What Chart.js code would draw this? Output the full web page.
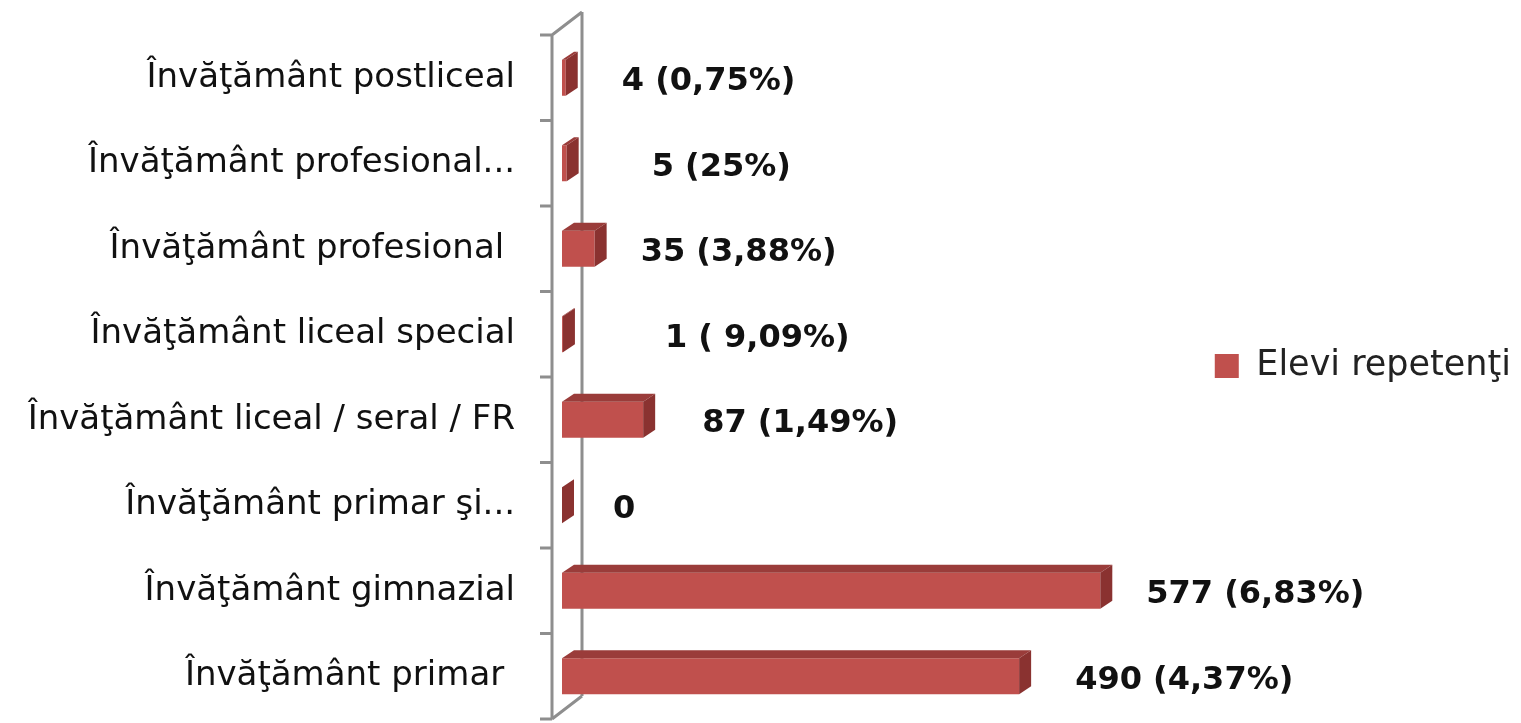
<!DOCTYPE html>
<html>
<head>
<meta charset="utf-8">
<script src="https://cdn.jsdelivr.net/npm/chart.js@4.4.1/dist/chart.umd.min.js"></script>
<style>
  html, body { margin: 0; padding: 0; background: #fff; }
  #wrap { width: 1521px; height: 723px; }
</style>
</head>
<body>
<div id="wrap"><canvas id="chart"></canvas></div>
<script>
// data
const categories = [
	'Învăţământ postliceal',
	'Învăţământ profesional...',
	'Învăţământ profesional ',
	'Învăţământ liceal special',
	'Învăţământ liceal / seral / FR',
	'Învăţământ primar şi...',
	'Învăţământ gimnazial',
	'Învăţământ primar '
];
const repetenti = [4, 5, 35, 1, 87, 0, 577, 490];
const valueLabels = [
	'4 (0,75%)',
	'5 (25%)',
	'35 (3,88%)',
	'1 ( 9,09%)',
	'87 (1,49%)',
	'0',
	'577 (6,83%)',
	'490 (4,37%)'
];
const seriesName = 'Elevi repetenţi';

// look
const BAR = '#c0504d';
const BAR_TOP = '#9a3c3a';
const BAR_SIDE = '#8a3230';
const WALL = '#8e8e8e';
const DEPTH_X = 12, DEPTH_Y = 8;
// gap between bar end and its label (labels were hand placed in the original)
const labelGap = [44, 73, 34, 90, 47, 39, 34, 44];

// back wall + front axis with ticks
const wallPlugin = {
	id: 'wall3d',
	beforeDatasetsDraw(chart) {
		const ctx = chart.ctx;
		const a = chart.chartArea;
		const front = a.left - 10, back = a.left + 20, dy = 23;
		const n = categories.length;
		ctx.save();
		ctx.strokeStyle = WALL;
		ctx.lineWidth = 3;
		ctx.beginPath();
		ctx.moveTo(front, a.top);
		ctx.lineTo(front, a.bottom);
		ctx.moveTo(back, a.top - dy);
		ctx.lineTo(back, a.bottom - dy);
		ctx.moveTo(front, a.top);
		ctx.lineTo(back, a.top - dy);
		ctx.moveTo(front, a.bottom);
		ctx.lineTo(back, a.bottom - dy);
		for (let i = 0; i <= n; i++) {
			const yy = a.top + i * (a.bottom - a.top) / n;
			ctx.moveTo(front - 12, yy);
			ctx.lineTo(front, yy);
		}
		ctx.stroke();
		ctx.restore();
	}
};

// 3d faces of the bars and the value labels
const barPlugin = {
	id: 'bar3d',
	afterDatasetsDraw(chart) {
		const ctx = chart.ctx;
		const meta = chart.getDatasetMeta(0);
		ctx.save();
		meta.data.forEach(function(bar, i) {
			const p = bar.getProps(['x', 'y', 'base', 'height'], true);
			const top = p.y - p.height / 2, bottom = p.y + p.height / 2;
			// top face
			ctx.fillStyle = BAR_TOP;
			ctx.beginPath();
			ctx.moveTo(p.base, top);
			ctx.lineTo(p.x, top);
			ctx.lineTo(p.x + DEPTH_X, top - DEPTH_Y);
			ctx.lineTo(p.base + DEPTH_X, top - DEPTH_Y);
			ctx.closePath();
			ctx.fill();
			// side face
			ctx.fillStyle = BAR_SIDE;
			ctx.beginPath();
			ctx.moveTo(p.x, top);
			ctx.lineTo(p.x + DEPTH_X, top - DEPTH_Y);
			ctx.lineTo(p.x + DEPTH_X, bottom - DEPTH_Y);
			ctx.lineTo(p.x, bottom);
			ctx.closePath();
			ctx.fill();
			// label
			ctx.fillStyle = '#111';
			ctx.font = 'bold 32px "DejaVu Sans"';
			ctx.textAlign = 'left';
			ctx.textBaseline = 'middle';
			ctx.fillText(valueLabels[i], p.x + DEPTH_X + labelGap[i], p.y + 4);
		});
		ctx.restore();
	}
};

// legend sits a little above the middle in the original
const legendNudge = {
	id: 'legendNudge',
	afterLayout(chart) {
		if (chart.legend) {
			chart.legend.top -= 11;
			chart.legend.bottom -= 11;
		}
	}
};

const config = {
	type: 'bar',
	data: {
		labels: categories,
		datasets: [{
			label: seriesName,
			data: repetenti,
			backgroundColor: BAR,
			borderWidth: 0,
			categoryPercentage: 1,
			barPercentage: 0.42
		}]
	},
	options: {
		indexAxis: 'y',
		responsive: true,
		maintainAspectRatio: false,
		animation: false,
		layout: {
			padding: { top: 35, bottom: 4, left: 0, right: 0 }
		},
		scales: {
			x: {
				display: false,
				min: 0,
				max: 689
			},
			y: {
				// tickLength keeps the labels away from the wall, the marks themselves are drawn by wall3d
				grid: { display: false, drawTicks: true, tickLength: 47 },
				border: { display: false },
				ticks: {
					autoSkip: false,
					padding: 0,
					color: '#111',
					font: { family: 'DejaVu Sans', size: 34 }
				},
				afterFit: function(scale) {
					scale.width = 562;
					// labels sit inside their bands, no extra room needed above/below
					scale.paddingTop = 0;
					scale.paddingBottom = 0;
				}
			}
		},
		plugins: {
			legend: {
				position: 'right',
				labels: {
					boxWidth: 24,
					boxHeight: 24,
					color: '#222',
					font: { family: 'DejaVu Sans', size: 35 }
				}
			},
			tooltip: { enabled: false }
		}
	},
	plugins: [wallPlugin, barPlugin, legendNudge]
};

let ctx = document.getElementById('chart').getContext('2d');
let chart = new Chart(ctx, config);
</script>
</body>
</html>
